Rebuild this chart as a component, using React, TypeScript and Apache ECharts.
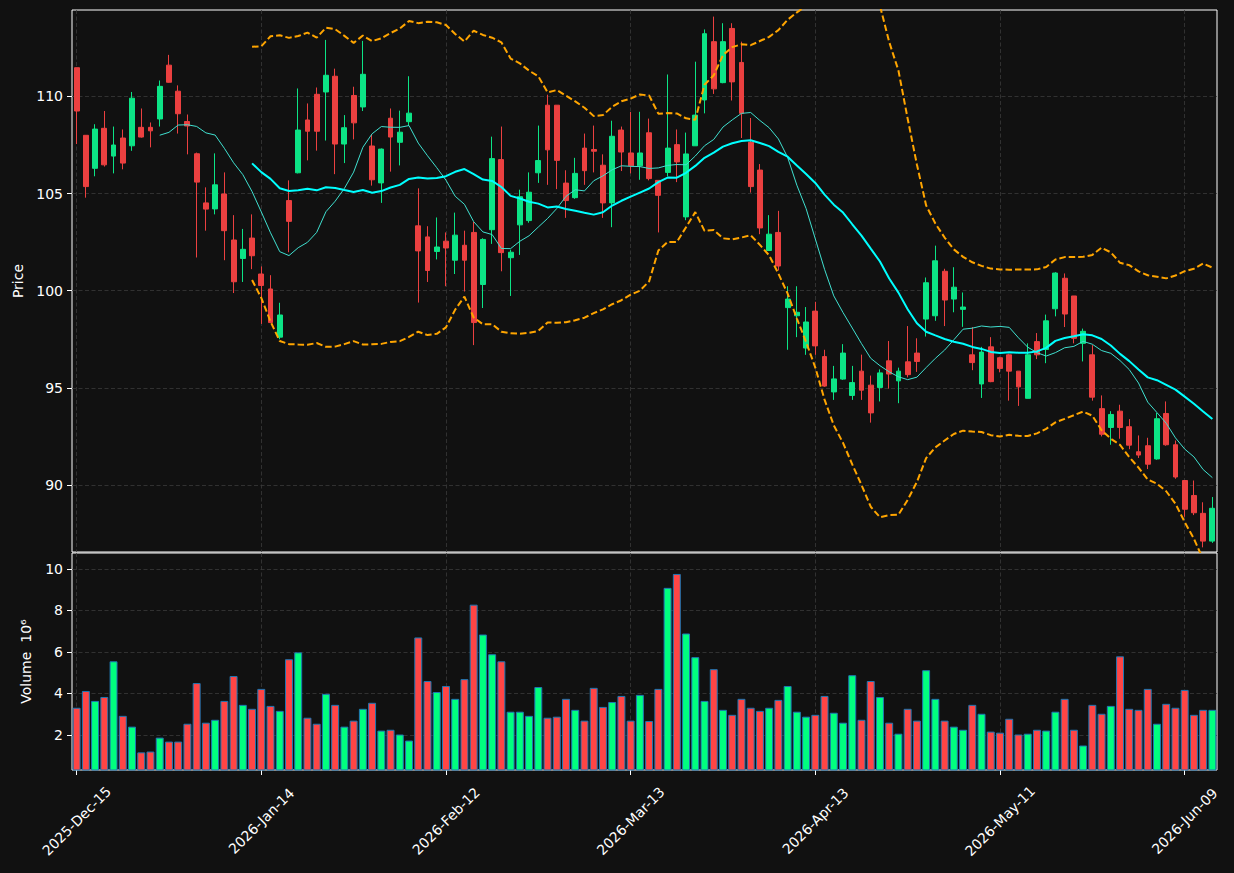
import React, { useEffect, useRef } from 'react';
import * as echarts from 'echarts';

const dates = [
  '2025-Dec-15','2025-Dec-16','2025-Dec-17','2025-Dec-18','2025-Dec-19','2025-Dec-22','2025-Dec-23','2025-Dec-24','2025-Dec-26','2025-Dec-29','2025-Dec-30','2025-Dec-31',
  '2026-Jan-02','2026-Jan-05','2026-Jan-06','2026-Jan-07','2026-Jan-08','2026-Jan-09','2026-Jan-12','2026-Jan-13','2026-Jan-14','2026-Jan-15','2026-Jan-16','2026-Jan-20','2026-Jan-21','2026-Jan-22','2026-Jan-23','2026-Jan-26','2026-Jan-27','2026-Jan-28','2026-Jan-29','2026-Jan-30',
  '2026-Feb-02','2026-Feb-03','2026-Feb-04','2026-Feb-05','2026-Feb-06','2026-Feb-09','2026-Feb-10','2026-Feb-11','2026-Feb-12','2026-Feb-13','2026-Feb-17','2026-Feb-18','2026-Feb-19','2026-Feb-20','2026-Feb-23','2026-Feb-24','2026-Feb-25','2026-Feb-26','2026-Feb-27',
  '2026-Mar-02','2026-Mar-03','2026-Mar-04','2026-Mar-05','2026-Mar-06','2026-Mar-09','2026-Mar-10','2026-Mar-11','2026-Mar-12','2026-Mar-13','2026-Mar-16','2026-Mar-17','2026-Mar-18','2026-Mar-19','2026-Mar-20','2026-Mar-23','2026-Mar-24','2026-Mar-25','2026-Mar-26','2026-Mar-27','2026-Mar-30','2026-Mar-31',
  '2026-Apr-01','2026-Apr-02','2026-Apr-06','2026-Apr-07','2026-Apr-08','2026-Apr-09','2026-Apr-10','2026-Apr-13','2026-Apr-14','2026-Apr-15','2026-Apr-16','2026-Apr-17','2026-Apr-20','2026-Apr-21','2026-Apr-22','2026-Apr-23','2026-Apr-24','2026-Apr-27','2026-Apr-28','2026-Apr-29','2026-Apr-30',
  '2026-May-01','2026-May-04','2026-May-05','2026-May-06','2026-May-07','2026-May-08','2026-May-11','2026-May-12','2026-May-13','2026-May-14','2026-May-15','2026-May-18','2026-May-19','2026-May-20','2026-May-21','2026-May-22','2026-May-26','2026-May-27','2026-May-28','2026-May-29',
  '2026-Jun-01','2026-Jun-02','2026-Jun-03','2026-Jun-04','2026-Jun-05','2026-Jun-08','2026-Jun-09','2026-Jun-10','2026-Jun-11','2026-Jun-12'
];

const opens = [
  111.48,108.00,106.30,108.36,106.93,107.86,107.46,108.41,108.41,108.84,
  111.61,110.27,108.71,107.05,104.52,104.21,104.98,102.61,101.66,102.71,
  100.86,100.09,97.61,104.64,106.07,108.79,110.11,110.23,111.04,107.55,
  110.05,109.46,107.45,105.55,108.88,107.64,108.70,103.34,102.77,102.02,
  102.55,101.57,102.34,103.00,100.32,103.14,106.75,101.70,103.39,103.61,
  106.07,109.55,109.55,105.54,104.79,107.34,107.27,106.46,104.52,108.27,
  107.09,106.43,108.13,105.68,106.09,107.52,103.80,107.46,109.82,112.82,
  110.71,113.50,111.75,107.64,106.21,102.07,103.00,99.13,98.71,97.05,
  98.95,96.61,94.79,95.45,94.61,95.86,95.14,95.02,96.39,95.36,
  96.34,96.79,98.54,98.71,101.00,99.57,99.04,96.70,95.20,97.11,
  96.55,96.70,95.86,94.46,97.38,96.98,99.07,100.64,99.73,97.29,
  96.70,93.93,92.96,93.80,93.00,91.71,92.02,91.34,93.68,92.07,
  90.23,89.46,88.54,87.11
];
const closes = [
  109.25,105.36,108.32,106.48,107.50,106.57,109.91,107.91,108.23,110.52,
  110.73,109.11,108.48,105.59,104.20,105.45,103.09,100.46,102.13,101.80,
  100.27,98.36,98.75,103.57,108.27,108.21,108.21,111.09,107.55,108.39,
  108.64,111.14,105.71,107.29,107.91,108.16,109.14,102.05,101.04,102.25,
  102.20,102.86,101.57,98.36,102.64,106.80,101.96,101.98,104.84,105.07,
  106.70,107.25,106.71,104.64,106.04,106.18,107.18,104.52,107.95,107.14,
  106.43,107.09,105.77,104.91,107.34,106.63,107.04,109.04,113.23,110.39,
  112.82,110.75,109.13,105.36,103.23,102.91,101.27,99.57,98.89,98.39,
  97.16,95.09,95.46,96.79,95.27,94.88,93.71,95.77,95.71,95.86,
  95.68,96.36,100.41,101.54,99.52,100.18,99.16,96.30,96.84,95.32,
  96.00,95.86,95.05,96.70,96.70,98.45,100.91,98.80,97.55,97.91,
  94.52,92.61,93.63,92.96,92.05,91.54,91.07,93.41,92.07,90.41,
  88.75,88.57,87.11,88.80
];
const lows = [
  107.55,104.79,105.89,106.39,106.04,106.25,107.20,107.88,107.38,108.45,
  110.71,108.09,107.02,101.71,103.09,103.93,101.57,99.88,100.45,101.11,
  98.29,98.36,97.50,101.98,106.04,106.71,107.21,107.73,106.00,106.57,
  107.79,109.25,105.41,104.52,106.13,106.45,108.48,99.39,100.45,101.61,
  100.23,100.86,99.96,97.20,99.11,102.41,101.00,99.73,101.84,103.50,
  105.55,105.45,105.23,103.75,104.73,105.45,106.09,103.75,103.27,106.16,
  106.04,105.71,105.68,103.00,105.89,105.59,103.63,107.46,109.13,110.13,
  110.68,109.79,107.86,105.05,102.91,102.07,101.04,96.96,97.61,96.70,
  96.70,95.05,94.38,95.41,94.38,94.38,93.21,94.30,94.96,94.21,
  95.54,95.82,97.64,98.45,98.18,98.89,98.14,95.91,94.48,95.29,
  95.80,94.34,94.07,94.46,96.48,96.27,98.68,98.13,97.29,96.36,
  94.34,92.50,92.07,92.38,91.84,91.39,90.82,91.30,92.02,90.32,
  88.36,88.45,86.79,87.02
];
const highs = [
  111.48,108.00,108.57,109.25,108.45,108.30,110.23,109.38,108.66,110.82,
  112.14,110.57,109.07,107.11,105.32,107.07,106.09,103.89,103.18,103.93,
  101.25,100.80,99.38,105.68,110.41,109.64,110.46,112.91,111.43,109.04,
  110.50,112.86,108.04,107.32,109.38,109.27,111.04,105.27,103.32,103.77,
  103.00,104.02,103.09,103.54,102.70,107.93,108.45,102.11,105.20,106.09,
  108.50,110.09,109.55,106.20,106.84,108.09,108.50,107.02,108.75,108.45,
  109.20,109.21,108.86,105.68,111.13,108.30,108.14,111.79,113.45,114.11,
  113.77,113.77,112.82,108.89,106.52,103.89,104.11,100.23,100.23,99.16,
  99.43,96.96,96.13,97.25,96.13,96.71,95.63,95.95,97.41,96.04,
  98.18,97.55,100.68,102.32,101.13,101.21,99.91,98.13,97.11,97.61,
  96.60,96.75,95.86,97.29,97.82,98.77,100.95,100.89,99.73,98.05,
  97.20,94.61,93.80,94.13,93.39,92.55,92.43,93.71,94.30,92.29,
  90.23,90.23,89.11,89.38
];
// volume in millions
const volumes = [
  3.31,4.12,3.64,3.83,5.55,2.92,2.40,1.16,1.20,1.87,
  1.68,1.68,2.54,4.50,2.59,2.73,3.64,4.84,3.45,3.26,
  4.22,3.40,3.16,5.65,5.98,2.83,2.54,3.98,3.45,2.40,
  2.69,3.26,3.55,2.21,2.25,2.02,1.73,6.70,4.60,4.07,
  4.36,3.74,4.69,8.28,6.84,5.89,5.55,3.12,3.12,2.92,
  4.31,2.83,2.88,3.74,3.21,2.69,4.27,3.35,3.59,3.88,
  2.69,3.93,2.67,4.22,9.09,9.76,6.89,5.75,3.64,5.17,
  3.21,2.97,3.74,3.31,3.16,3.31,3.69,4.36,3.12,2.88,
  2.97,3.88,3.07,2.59,4.88,2.73,4.60,3.83,2.59,2.06,
  3.26,2.69,5.12,3.74,2.69,2.40,2.25,3.45,3.02,2.16,
  2.11,2.78,2.02,2.06,2.25,2.21,3.12,3.74,2.25,1.49,
  3.45,3.02,3.40,5.79,3.26,3.21,4.22,2.54,3.50,3.31,
  4.17,2.97,3.21,3.21
];

const priceTicks = [90, 95, 100, 105, 110];
const volumeTicks = [2, 4, 6, 8, 10];
const MA_SHORT = 10;
const MA_LONG = 20;

function rollingMean(arr: number[], n: number): (number | string)[] {
  return arr.map((_, i) => {
    if (i < n - 1) return '-';
    let s = 0;
    for (let k = i - n + 1; k <= i; k++) s += arr[k];
    return s / n;
  });
}
function rollingStd(arr: number[], n: number): (number | string)[] {
  return arr.map((_, i) => {
    if (i < n - 1) return '-';
    let s = 0;
    for (let k = i - n + 1; k <= i; k++) s += arr[k];
    const m = s / n;
    let v = 0;
    for (let k = i - n + 1; k <= i; k++) v += (arr[k] - m) * (arr[k] - m);
    return Math.sqrt(v / (n - 1));
  });
}

const UP = '#0ce486';
const DOWN = '#eb4040';
const VUP = '#00ff7f';
const VDOWN = '#ff4545';
const GRIDC = '#3a3a3a';
const FONT = 'DejaVu Sans';

export default function App() {
  const ref = useRef<HTMLDivElement>(null);
  useEffect(() => {
    document.body.style.margin = '0';
    document.body.style.background = '#111111';
    const chart = echarts.init(ref.current as HTMLDivElement, null, { renderer: 'svg' });

    const ma10 = rollingMean(closes, MA_SHORT);
    const ma20 = rollingMean(closes, MA_LONG);
    const sd20 = rollingStd(closes, MA_LONG);
    const upper = ma20.map((m, i) => (m === '-' ? '-' : (m as number) + 2 * (sd20[i] as number)));
    const lower = ma20.map((m, i) => (m === '-' ? '-' : (m as number) - 2 * (sd20[i] as number)));

    const tickInterval = (i: number) => i % 20 === 0;
    const splitLine = {
      show: true,
      interval: tickInterval,
      alignWithLabel: true,
      lineStyle: { color: GRIDC, type: [4, 2.5], width: 0.8 },
    };

    const option: any = {
      animation: false,
      backgroundColor: '#111111',
      grid: [
        { left: 72, top: 10, width: 1145, height: 542, show: true, borderColor: '#ffffff', borderWidth: 1, backgroundColor: 'transparent' },
        { left: 72, top: 553, width: 1145, height: 217, show: true, borderColor: '#ffffff', borderWidth: 1, backgroundColor: 'transparent' },
      ],
      xAxis: [
        {
          type: 'category', gridIndex: 0, data: dates, boundaryGap: true,
          axisLine: { show: false }, axisTick: { show: false }, axisLabel: { show: false },
          splitLine,
        },
        {
          type: 'category', gridIndex: 1, data: dates, boundaryGap: true,
          axisLine: { show: false },
          axisTick: { show: true, interval: tickInterval, alignWithLabel: true, length: 5, lineStyle: { color: '#ffffff', width: 1 } },
          axisLabel: {
            show: true, interval: tickInterval, rotate: 45, align: 'center', verticalAlign: 'middle',
            margin: 51, color: '#ffffff', fontSize: 14, fontFamily: FONT,
          },
          splitLine,
        },
      ],
      yAxis: [
        {
          type: 'value', gridIndex: 0, min: 86.55, max: 114.45,
          axisLine: { show: false },
          axisTick: { show: true, customValues: priceTicks, length: 5, lineStyle: { color: '#ffffff' } },
          axisLabel: { customValues: priceTicks, color: '#ffffff', fontSize: 14, fontFamily: FONT, margin: 9 },
          splitLine: { show: true, lineStyle: { color: GRIDC, type: [4, 2.5], width: 0.8 } },
          name: 'Price', nameLocation: 'middle', nameRotate: 90, nameGap: 46,
          nameTextStyle: { color: '#ffffff', fontSize: 14, fontFamily: FONT },
        },
        {
          type: 'value', gridIndex: 1, min: 0.31, max: 10.77,
          axisLine: { show: false },
          axisTick: { show: true, customValues: volumeTicks, length: 5, lineStyle: { color: '#ffffff' } },
          axisLabel: { customValues: volumeTicks, color: '#ffffff', fontSize: 14, fontFamily: FONT, margin: 9 },
          splitLine: { show: true, lineStyle: { color: GRIDC, type: [4, 2.5], width: 0.8 } },
          name: 'Volume  10\u2076', nameLocation: 'middle', nameRotate: 90, nameGap: 39,
          nameTextStyle: { color: '#ffffff', fontSize: 14, fontFamily: FONT },
        },
      ],
      series: [
        {
          type: 'candlestick', xAxisIndex: 0, yAxisIndex: 0, barWidth: '58%',
          data: dates.map((_, i) => [opens[i], closes[i], lows[i], highs[i]]),
          itemStyle: { color: UP, color0: DOWN, borderColor: UP, borderColor0: DOWN, borderWidth: 1 },
        },
        {
          type: 'line', xAxisIndex: 0, yAxisIndex: 0, data: ma10, showSymbol: false,
          lineStyle: { color: '#40e0d0', width: 1 }, z: 3,
        },
        {
          type: 'line', xAxisIndex: 0, yAxisIndex: 0, data: ma20, showSymbol: false,
          lineStyle: { color: '#00ffff', width: 2 }, z: 3,
        },
        {
          type: 'line', xAxisIndex: 0, yAxisIndex: 0, data: upper, showSymbol: false,
          lineStyle: { color: '#ffa500', width: 2, type: [6.5, 3] }, z: 3,
        },
        {
          type: 'line', xAxisIndex: 0, yAxisIndex: 0, data: lower, showSymbol: false,
          lineStyle: { color: '#ffa500', width: 2, type: [6.5, 3] }, z: 3,
        },
        {
          type: 'bar', xAxisIndex: 1, yAxisIndex: 1, barWidth: '86%',
          data: volumes.map((v, i) => ({
            value: v,
            itemStyle: { color: closes[i] >= opens[i] ? VUP : VDOWN },
          })),
          itemStyle: { borderColor: '#1f77b4', borderWidth: 1 },
        },
      ],
    };
    chart.setOption(option);
    return () => chart.dispose();
  }, []);
  return <div ref={ref} style={{ width: 1234, height: 873 }} />;
}
